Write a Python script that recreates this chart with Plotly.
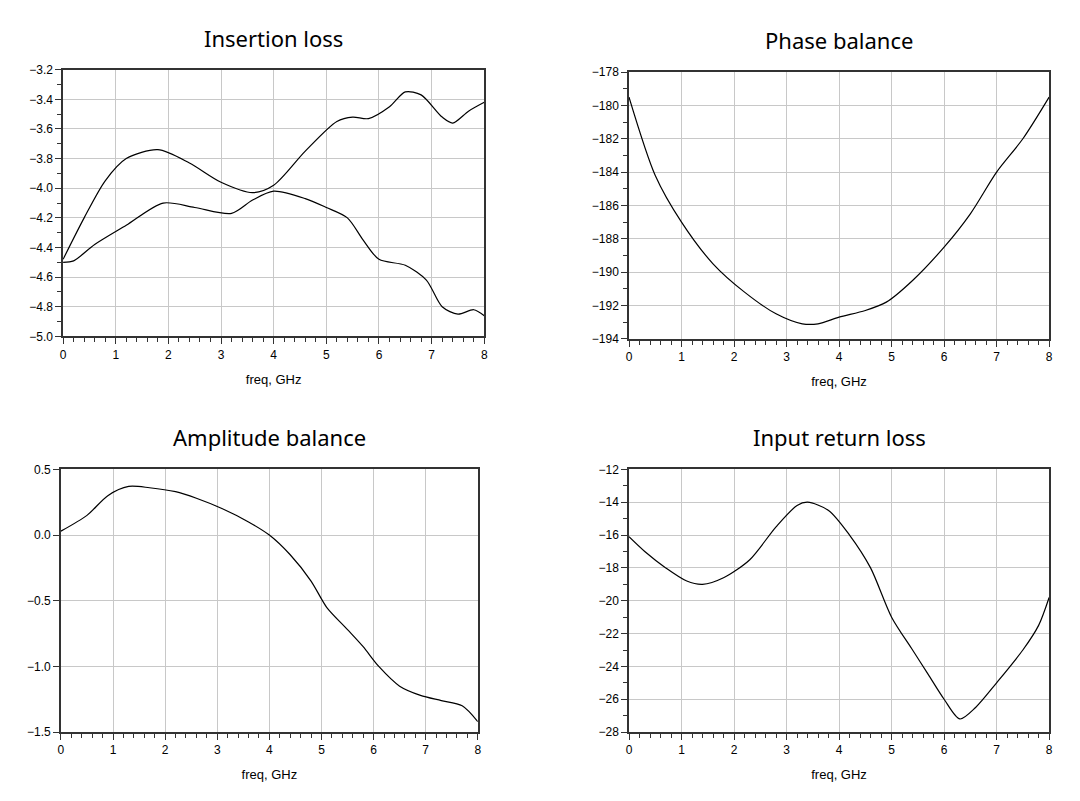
import plotly.graph_objects as go

# Insertion loss (two curves)
il_freq_a = [0, 0.4, 0.8, 1.2, 1.8, 2.4, 3.0, 3.6, 4.0, 4.6, 5.2, 5.5, 5.8, 6.2, 6.5, 6.8, 7.2, 7.4, 7.7, 8.0]
il_a = [-4.48, -4.2, -3.95, -3.8, -3.74, -3.83, -3.96, -4.03, -3.98, -3.75, -3.55, -3.52, -3.53, -3.45, -3.35, -3.37, -3.52, -3.56, -3.48, -3.42]
il_freq_b = [0, 0.2, 0.6, 1.2, 1.9, 2.5, 3.2, 3.6, 4.0, 4.6, 5.0, 5.4, 5.7, 6.0, 6.5, 6.9, 7.2, 7.5, 7.8, 8.0]
il_b = [-4.50, -4.49, -4.38, -4.25, -4.10, -4.13, -4.17, -4.08, -4.02, -4.07, -4.13, -4.2, -4.35, -4.48, -4.52, -4.62, -4.8, -4.85, -4.82, -4.86]

ph_freq = [0, 0.5, 1.0, 1.6, 2.2, 2.8, 3.3, 3.6, 4.0, 4.5, 4.9, 5.4, 6.0, 6.5, 7.0, 7.5, 8.0]
ph = [-179.5, -184.2, -187.0, -189.5, -191.2, -192.5, -193.1, -193.1, -192.7, -192.3, -191.8, -190.5, -188.5, -186.5, -184.0, -182.0, -179.5]

am_freq = [0, 0.5, 0.9, 1.3, 1.7, 2.2, 2.6, 3.1, 3.6, 4.0, 4.4, 4.8, 5.1, 5.5, 5.8, 6.1, 6.5, 6.9, 7.3, 7.7, 8.0]
am = [0.03, 0.15, 0.3, 0.37, 0.36, 0.33, 0.28, 0.2, 0.1, 0.0, -0.15, -0.35, -0.55, -0.72, -0.85, -1.0, -1.15, -1.22, -1.26, -1.3, -1.42]

rl_freq = [0, 0.3, 0.7, 1.1, 1.4, 1.8, 2.3, 2.8, 3.2, 3.4, 3.8, 4.2, 4.6, 5.0, 5.4, 5.7, 6.0, 6.3, 6.6, 7.0, 7.5, 7.8, 8.0]
rl = [-16.1, -17.0, -18.0, -18.8, -19.0, -18.6, -17.5, -15.5, -14.2, -14.0, -14.5, -16.0, -18.0, -21.0, -23.0, -24.5, -26.0, -27.2, -26.5, -25.0, -23.0, -21.5, -19.8]

titles = ["Insertion loss", "Phase balance", "Amplitude balance", "Input return loss"]

fig = go.Figure()
line = dict(color="black", width=1.2, shape="spline", smoothing=0.8)
fig.add_trace(go.Scatter(x=il_freq_a, y=il_a, mode="lines", line=line, xaxis="x", yaxis="y"))
fig.add_trace(go.Scatter(x=il_freq_b, y=il_b, mode="lines", line=line, xaxis="x", yaxis="y"))
fig.add_trace(go.Scatter(x=ph_freq, y=ph, mode="lines", line=line, xaxis="x2", yaxis="y2"))
fig.add_trace(go.Scatter(x=am_freq, y=am, mode="lines", line=line, xaxis="x3", yaxis="y3"))
fig.add_trace(go.Scatter(x=rl_freq, y=rl, mode="lines", line=line, xaxis="x4", yaxis="y4"))

domains = [
    ([0.051, 0.441], [0.590, 0.923]),
    ([0.575, 0.964], [0.587, 0.920]),
    ([0.049, 0.435], [0.096, 0.424]),
    ([0.575, 0.964], [0.096, 0.424]),
]
yranges = [([-5.0, -3.2], 0.2), ([-194, -178], 2), ([-1.5, 0.5], 0.5), ([-28, -12], 2)]
yfmt = [".1f", "d", ".1f", "d"]

axis_common = dict(
    showline=True, linecolor="#333", linewidth=1.5, mirror=True,
    showgrid=True, gridcolor="#c8c8c8", gridwidth=1,
    ticks="outside", ticklen=6, tickcolor="#333",
    tickfont=dict(family="Liberation Sans", size=12, color="black"),
    zeroline=False, automargin=False,
)

layout = {}
for i, ((xd, yd), (yr, dt)) in enumerate(zip(domains, yranges)):
    s = "" if i == 0 else str(i + 1)
    layout["xaxis" + s] = dict(
        axis_common, domain=xd, range=[0, 8], dtick=1, anchor="y" + s,
        minor=dict(ticks="outside", ticklen=4, dtick=0.2, tickcolor="#333", showgrid=False),
        title=dict(text="freq, GHz", font=dict(family="Liberation Sans", size=13, color="black"), standoff=14),
    )
    layout["yaxis" + s] = dict(
        axis_common, domain=yd, range=yr, dtick=dt, anchor="x" + s, tickformat=yfmt[i],
        minor=dict(ticks="outside", ticklen=4, nticks=2, tickcolor="#333", showgrid=False),
    )
    fig.add_annotation(
        text=titles[i], x=(xd[0] + xd[1]) / 2, y=yd[1] + 0.04, xref="paper", yref="paper",
        xanchor="center", yanchor="middle",
        showarrow=False, font=dict(family="Noto Sans", size=22, color="black"),
    )

fig.update_layout(
    width=1080, height=801, margin=dict(l=0, r=0, t=0, b=0, autoexpand=False),
    plot_bgcolor="white", paper_bgcolor="white", showlegend=False, **layout,
)

fig.write_html("out.html")
